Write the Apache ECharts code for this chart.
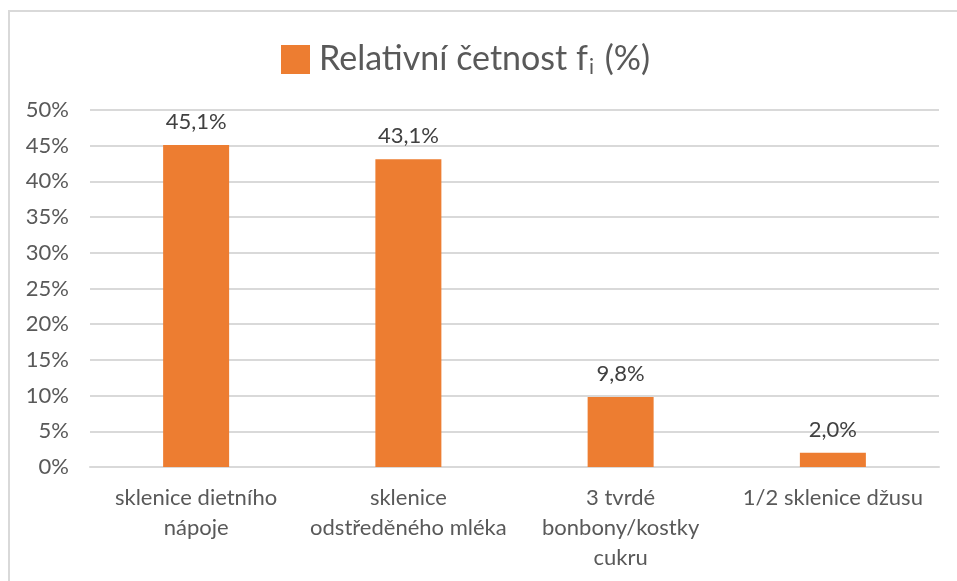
<!DOCTYPE html>
<html>
<head>
<meta charset="utf-8">
<script src="https://cdn.jsdelivr.net/npm/echarts@6/dist/echarts.min.js"></script>
<style>
  html, body { margin: 0; padding: 0; background: #fff; }
  #frame { position: absolute; left: 8px; top: 10px; width: 960px; height: 580px;
           border-left: 2px solid #d9d9d9; border-top: 2px solid #d9d9d9; }
  #chartDom { position: absolute; left: 0; top: 0; width: 957px; height: 581px; }
</style>
</head>
<body>
<div id="frame"></div>
<div id="chartDom"></div>
<script>
var categories = ['sklenice dietního nápoje', 'sklenice odstředěného mléka', '3 tvrdé bonbony/kostky cukru', '1/2 sklenice džusu'];
var tickLabels = ['sklenice dietního\nnápoje', 'sklenice\nodstředěného mléka', '3 tvrdé\nbonbony/kostky\ncukru', '1/2 sklenice džusu'];
var values = [45.1, 43.1, 9.8, 2.0];
var yTicks = [0, 5, 10, 15, 20, 25, 30, 35, 40, 45, 50];

var font = 'Lato, "Open Sans", sans-serif';
var chartDom = echarts.init(document.getElementById('chartDom'));
chartDom.setOption({
    backgroundColor: 'transparent',
    legend: {
        top: 36,
        left: 276,
        itemWidth: 29,
        itemHeight: 29,
        itemGap: 10,
        icon: 'rect',
        formatter: function () {
            return '{a|Relativní četnost f}{b|i}{a| (%)}';
        },
        textStyle: {
            padding: [0, 0, 0, 4],
            rich: {
                a: { fontFamily: font, fontSize: 34, color: '#595959', lineHeight: 40 },
                b: { fontFamily: font, fontSize: 21, color: '#595959', lineHeight: 40, padding: [16, 2, 0, 1] }
            }
        }
    },
    grid: { left: 90, right: 18, top: 110, bottom: 114, containLabel: false },
    xAxis: {
        type: 'category',
        data: categories,
        axisTick: { show: false },
        axisLine: { lineStyle: { color: '#d9d9d9', width: 2 } },
        axisLabel: {
            fontFamily: font, fontSize: 22, color: '#595959',
            margin: 16, lineHeight: 30, interval: 0,
            formatter: function (v, i) { return tickLabels[i]; }
        }
    },
    yAxis: {
        type: 'value',
        min: yTicks[0],
        max: yTicks[yTicks.length - 1],
        interval: 5,
        axisLine: { show: false },
        axisTick: { show: false },
        splitLine: { lineStyle: { color: '#d9d9d9', width: 2 } },
        axisLabel: {
            fontFamily: font, fontSize: 22, color: '#595959', margin: 21,
            formatter: function (v) { return v + '%'; }
        }
    },
    series: [{
        name: 'Relativní četnost fi (%)',
        type: 'bar',
        data: values,
        barWidth: 66,
        itemStyle: { color: '#ED7D31' },
        label: {
            show: true, position: 'top', distance: 12,
            fontFamily: font, fontSize: 22, color: '#404040',
            formatter: function (p) { return p.value.toFixed(1).replace('.', ',') + '%'; }
        }
    }]
});
</script>
</body>
</html>
